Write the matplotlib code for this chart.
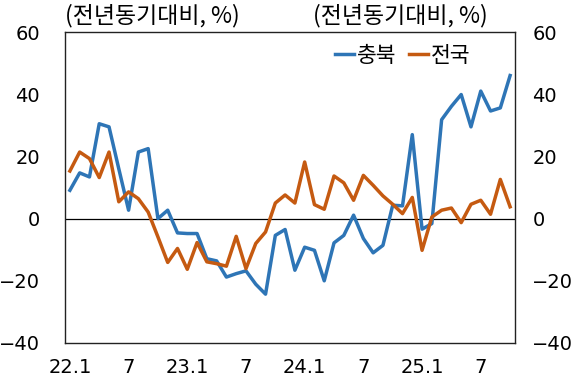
import matplotlib
matplotlib.use("Agg")
import matplotlib.pyplot as plt
import numpy as np

plt.rcParams['font.family'] = ['Noto Sans CJK KR', 'DejaVu Sans']

months = ["22.1","22.2","22.3","22.4","22.5","22.6","22.7","22.8","22.9","22.10","22.11","22.12",
          "23.1","23.2","23.3","23.4","23.5","23.6","23.7","23.8","23.9","23.10","23.11","23.12",
          "24.1","24.2","24.3","24.4","24.5","24.6","24.7","24.8","24.9","24.10","24.11","24.12",
          "25.1","25.2","25.3","25.4","25.5","25.6","25.7","25.8","25.9","25.10"]

chungbuk = [9.1, 14.7, 13.4, 30.5, 29.5, 16.0, 2.7, 21.4, 22.5, 0.0, 2.7, -4.6,
            -4.8, -4.8, -12.9, -13.6, -18.8, -17.7, -16.8, -21.1, -24.3, -5.4, -3.5, -16.6,
            -9.2, -10.2, -20.0, -7.8, -5.4, 1.1, -6.4, -11.0, -8.6, 4.3, 4.1, 27.0,
            -3.4, -1.6, 31.8, 36.1, 39.9, 29.5, 41.0, 34.6, 35.6, 46.0]

national = [15.3, 21.4, 19.3, 13.2, 21.4, 5.4, 8.6, 6.4, 2.1, -5.9, -14.1, -9.6,
            -16.3, -7.7, -13.9, -14.5, -15.3, -5.7, -16.1, -8.0, -4.3, 5.0, 7.6, 5.0,
            18.2, 4.5, 3.0, 13.7, 11.5, 5.9, 13.9, 10.7, 7.3, 4.6, 1.6, 6.8,
            -10.2, 0.5, 2.7, 3.4, -1.3, 4.6, 5.9, 1.4, 12.6, 3.8]

tick_labels = ["22.1", "7", "23.1", "7", "24.1", "7", "25.1", "7"]
yticks = [-40, -20, 0, 20, 40, 60]
unit_label = '(전년동기대비, %)'

W, H = 580, 379
fig = plt.figure(figsize=(W/100, H/100), dpi=100)
L, R, T, B = 65, 515, 32, 343
ax = fig.add_axes([L/W, 1-B/H, (R-L)/W, (B-T)/H])

num_font = dict(family='DejaVu Sans', size=14)

x = np.arange(len(months))
ax.plot(x, chungbuk, color='#2E75B6', lw=2.5, label='충북')
ax.plot(x, national, color='#C55A11', lw=2.5, label='전국')
ax.axhline(0, color='black', lw=0.9, zorder=1)

ax.set_xlim(-0.5, len(months)-0.5)
ax.set_ylim(-40, 60)
ax.set_yticks(yticks)
ax.set_yticklabels([str(v).replace('-', '\u2212') for v in yticks], fontdict=num_font)
ax.set_xticks(x[::6])
ax.set_xticklabels(tick_labels, fontdict=num_font)
ax.tick_params(axis='both', length=0)
ax.tick_params(axis='y', pad=18)
ax.tick_params(axis='x', pad=11)
for s in ax.spines.values():
    s.set_color('#222222')
    s.set_linewidth(1.0)

ax2 = ax.twinx()
ax2.set_ylim(-40, 60)
ax2.set_yticks(yticks)
ax2.set_yticklabels([str(v).replace('-', '\u2212') for v in yticks], fontdict=num_font)
ax2.tick_params(axis='y', length=0, pad=12.5)
for s in ax2.spines.values():
    s.set_visible(False)

leg = ax.legend(loc='center right', bbox_to_anchor=(470/W, 1-56/H),
                bbox_transform=fig.transFigure, ncol=2, frameon=False,
                fontsize=15.5, handlelength=0.9, handletextpad=0.1, columnspacing=0.6,
                borderpad=0, borderaxespad=0)

fig.text(152/W, 1-16/H, unit_label, ha='center', va='center', fontsize=16.5)
fig.text(400/W, 1-16/H, unit_label, ha='center', va='center', fontsize=16.5)

fig.savefig('out.png', dpi=100)
